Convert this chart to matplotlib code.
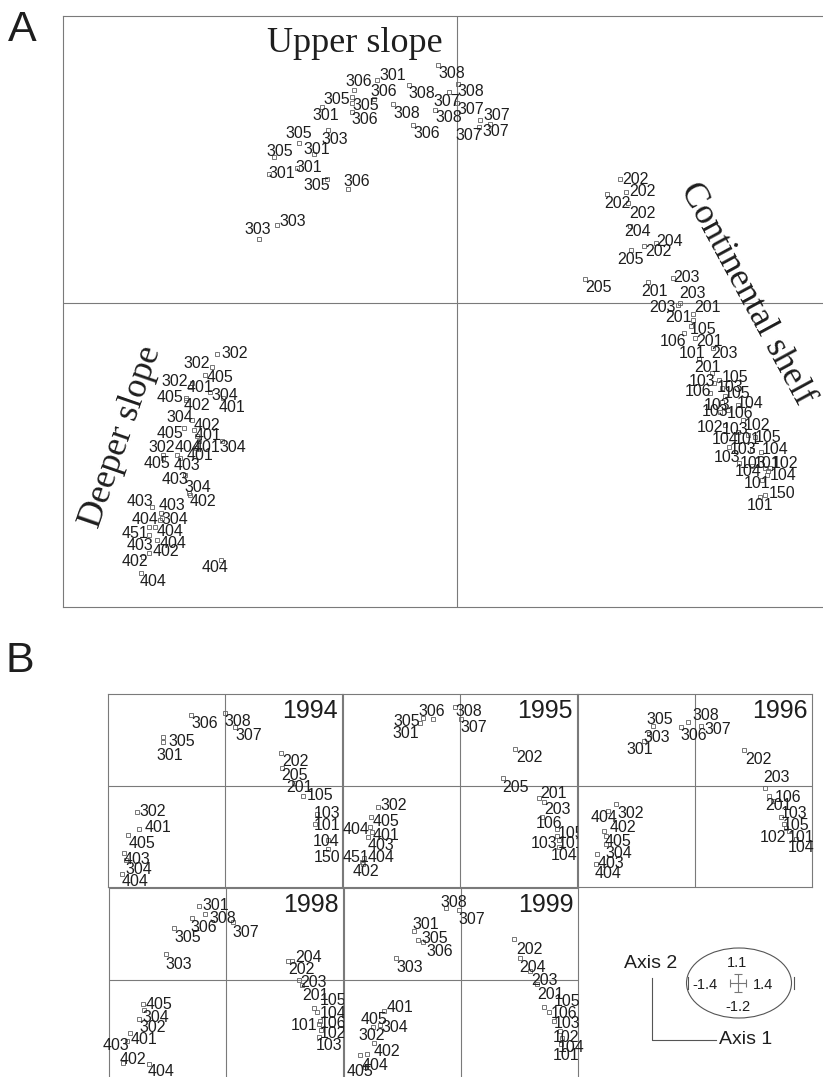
import numpy as np
import matplotlib.pyplot as plt
from matplotlib.patches import Ellipse

plt.rcParams['font.family'] = ['Liberation Sans', 'DejaVu Sans']

# ---------------- panel A: ordination scores (arbitrary units) ----------------
A_code = ['308', '306', '301', '308', '306', '308', '305', '307', '305', '308', '307', '301', '306', '308',
          '307', '307', '307', '306', '305', '303', '305', '301', '301', '301', '305', '306', '303', '303',
          '202', '202', '202', '202', '204', '204', '202', '205', '205', '201', '203', '203', '203', '201',
          '201', '105', '106', '201', '101', '203',
          '201', '105', '103', '103', '106', '105', '103', '104', '106', '103', '102', '102', '103', '105',
          '104', '101', '103', '104', '103', '103', '101', '102', '104', '104', '101', '150', '101',
          '302', '302', '405', '302', '401', '304', '405', '402', '401', '304', '402', '405', '401', '302',
          '404', '401', '304', '401', '405', '403', '403', '304', '402', '403', '403', '404', '304', '451',
          '404', '403', '404', '402', '402', '404', '404']
A_x = [-0.19, -1.03, -0.80, 0.01, -0.83, -0.48, -1.05, -0.08, -1.05, -0.64, 0.00, -1.35, -1.05, -0.22,
       0.23, 0.33, 0.22, -0.44, -1.58, -1.29, -1.83, -1.43, -1.60, -1.88, -1.30, -1.09, -1.80, -1.98,
       1.63, 1.69, 1.50, 1.71, 1.73, 1.99, 1.87, 1.74, 1.28, 1.91, 2.16, 2.23, 2.21, 2.36, 2.36, 2.34,
       2.27, 2.38, 2.42, 2.56,
       2.55, 2.62, 2.57, 2.65, 2.53, 2.68, 2.65, 2.81, 2.71, 2.63, 2.68, 2.86, 2.81, 2.98, 2.72, 2.91,
       2.95, 3.04, 2.82, 2.95, 3.08, 3.13, 3.10, 3.11, 3.05, 3.08, 3.03,
       -2.40, -2.45, -2.52, -2.65, -2.67, -2.47, -2.71, -2.71, -2.34, -2.65, -2.63, -2.73, -2.60, -2.94,
       -2.80, -2.58, -2.35, -2.61, -2.94, -2.77, -2.72, -2.68, -2.67, -3.05, -2.96, -2.97, -2.95, -3.08,
       -3.02, -3.08, -3.00, -3.08, -3.14, -2.36, -3.16]
A_y = [2.38, 2.13, 2.23, 2.19, 2.04, 2.18, 2.06, 2.11, 2.00, 1.99, 2.00, 1.96, 1.91, 1.93,
       1.83, 1.79, 1.76, 1.78, 1.60, 1.73, 1.46, 1.49, 1.35, 1.29, 1.24, 1.14, 0.78, 0.64,
       1.24, 1.11, 1.09, 1.00, 0.77, 0.60, 0.57, 0.53, 0.24, 0.21, 0.25, 0.00, -0.02, -0.11, -0.17, -0.23,
       -0.30, -0.35, -0.56, -0.45,
       -0.70, -0.77, -0.80, -0.85, -0.90, -0.93, -0.99, -1.02, -1.07, -1.09, -1.22, -1.17, -1.29, -1.34,
       -1.44, -1.32, -1.47, -1.49, -1.60, -1.63, -1.65, -1.65, -1.72, -1.68, -1.77, -1.92, -1.94,
       -0.51, -0.64, -0.72, -0.80, -0.84, -0.89, -0.95, -0.97, -0.95, -1.17, -1.27, -1.25, -1.33, -1.52,
       -1.52, -1.38, -1.38, -1.45, -1.55, -1.55, -1.72, -1.90, -1.92, -2.04, -2.10, -2.17, -2.15, -2.24,
       -2.24, -2.32, -2.37, -2.50, -2.54, -2.57, -2.70]
# label anchor positions (same units)
A_lx = [-0.05, -0.98, -0.64, 0.14, -0.73, -0.35, -1.20, -0.10, -0.91, -0.50, 0.14, -1.31, -0.92, -0.08,
        0.40, 0.39, 0.12, -0.30, -1.58, -1.22, -1.77, -1.40, -1.48, -1.75, -1.40, -1.00, -1.64, -1.99,
        1.78, 1.85, 1.60, 1.85, 1.81, 2.13, 2.01, 1.73, 1.41, 1.98, 2.30, 2.36, 2.06, 2.51, 2.21, 2.46,
        2.16, 2.53, 2.35, 2.67,
        2.51, 2.78, 2.45, 2.73, 2.41, 2.80, 2.60, 2.93, 2.83, 2.58, 2.53, 3.00, 2.78, 3.11, 2.68, 2.90,
        2.86, 3.18, 2.70, 2.96, 3.10, 3.28, 2.91, 3.26, 3.00, 3.25, 3.03,
        -2.22, -2.60, -2.37, -2.82, -2.57, -2.32, -2.87, -2.60, -2.25, -2.77, -2.50, -2.87, -2.49, -2.95,
        -2.69, -2.50, -2.24, -2.57, -3.00, -2.70, -2.82, -2.59, -2.54, -3.17, -2.85, -3.12, -2.82, -3.22,
        -2.87, -3.17, -2.84, -2.91, -3.22, -2.42, -3.04]
A_ly = [2.29, 2.21, 2.27, 2.11, 2.11, 2.09, 2.04, 2.02, 1.98, 1.90, 1.94, 1.88, 1.83, 1.85,
        1.88, 1.71, 1.68, 1.69, 1.69, 1.63, 1.52, 1.53, 1.36, 1.30, 1.17, 1.21, 0.82, 0.74,
        1.24, 1.11, 1.00, 0.90, 0.71, 0.62, 0.51, 0.44, 0.15, 0.11, 0.25, 0.09, -0.04, -0.05, -0.14, -0.27,
        -0.39, -0.39, -0.51, -0.51,
        -0.64, -0.74, -0.79, -0.84, -0.89, -0.90, -1.02, -1.00, -1.10, -1.08, -1.24, -1.22, -1.27, -1.34,
        -1.37, -1.37, -1.47, -1.47, -1.54, -1.60, -1.60, -1.60, -1.69, -1.72, -1.80, -1.90, -2.02,
        -0.50, -0.60, -0.74, -0.79, -0.85, -0.92, -0.95, -1.02, -1.05, -1.14, -1.22, -1.31, -1.32, -1.44,
        -1.44, -1.44, -1.45, -1.52, -1.60, -1.62, -1.76, -1.85, -1.98, -1.99, -2.02, -2.16, -2.17, -2.30,
        -2.29, -2.42, -2.40, -2.49, -2.59, -2.65, -2.79]

zone_names = ['Upper slope', 'Continental shelf', 'Deeper slope']
zone_x = [-1.02, 2.90, -3.36]
zone_y = [2.59, 0.09, -1.34]
zone_rot = [0, -61.5, 71]

# ---------------- panel B: one small ordination per year ----------------
years = ['1994', '1995', '1996', '1998', '1999']

code_1994 = ['306', '308', '307', '305', '301', '202', '205', '201', '105', '103', '101', '104', '150',
             '302', '401', '405', '403', '304', '404']
x_1994 = [-0.34, 0.00, 0.10, -0.62, -0.62, 0.56, 0.57, 0.69, 0.78, 0.92, 0.90, 1.03, 1.03,
          -0.88, -0.86, -0.97, -1.01, -0.99, -1.03]
y_1994 = [0.71, 0.73, 0.59, 0.49, 0.44, 0.33, 0.18, 0.03, -0.10, -0.28, -0.38, -0.54, -0.63,
          -0.26, -0.43, -0.49, -0.67, -0.74, -0.88]
lx_1994 = [-0.20, 0.13, 0.24, -0.43, -0.55, 0.70, 0.70, 0.75, 0.95, 1.02, 1.02, 1.01, 1.02,
           -0.72, -0.67, -0.83, -0.88, -0.86, -0.90]
ly_1994 = [0.62, 0.64, 0.51, 0.45, 0.30, 0.25, 0.10, -0.02, -0.10, -0.28, -0.39, -0.56, -0.71,
           -0.26, -0.42, -0.58, -0.73, -0.83, -0.96]

code_1995 = ['306', '305', '301', '308', '307', '202', '205', '201', '203', '106', '105', '103', '101',
             '104', '302', '405', '404', '401', '403', '451', '404', '402']
x_1995 = [-0.27, -0.37, -0.40, -0.05, 0.01, 0.55, 0.43, 0.79, 0.84, 0.82, 0.97, 0.97, 0.99,
          0.99, -0.82, -0.89, -0.90, -0.88, -0.92, -0.98, -0.96, -0.97]
y_1995 = [0.67, 0.68, 0.63, 0.79, 0.67, 0.37, 0.08, -0.12, -0.16, -0.31, -0.43, -0.50, -0.54,
          -0.61, -0.21, -0.31, -0.41, -0.46, -0.51, -0.76, -0.72, -0.78]
lx_1995 = [-0.28, -0.53, -0.54, 0.09, 0.14, 0.69, 0.56, 0.94, 0.98, 0.89, 1.11, 0.84, 1.11,
           1.04, -0.66, -0.74, -1.04, -0.74, -0.79, -1.04, -0.79, -0.94]
ly_1995 = [0.74, 0.64, 0.52, 0.74, 0.58, 0.28, -0.01, -0.07, -0.24, -0.37, -0.48, -0.58, -0.58,
           -0.70, -0.20, -0.36, -0.43, -0.50, -0.59, -0.71, -0.71, -0.86]

code_1996 = ['305', '303', '301', '308', '306', '307', '202', '203', '106', '201', '103', '105', '102',
             '101', '104', '302', '404', '402', '405', '304', '403', '404']
x_1996 = [-0.42, -0.46, -0.51, -0.07, -0.14, 0.06, 0.49, 0.70, 0.74, 0.78, 0.86, 0.89, 0.91,
          0.94, 1.01, -0.79, -0.87, -0.91, -0.89, -0.89, -0.98, -0.99]
y_1996 = [0.60, 0.52, 0.45, 0.64, 0.59, 0.60, 0.36, -0.02, -0.10, -0.15, -0.31, -0.38, -0.42,
          -0.45, -0.53, -0.18, -0.25, -0.45, -0.50, -0.58, -0.68, -0.78]
lx_1996 = [-0.35, -0.38, -0.55, 0.11, -0.01, 0.23, 0.63, 0.81, 0.93, 0.84, 0.99, 1.01, 0.78,
           1.06, 1.06, -0.64, -0.91, -0.72, -0.77, -0.76, -0.84, -0.87]
ly_1996 = [0.66, 0.49, 0.36, 0.70, 0.50, 0.56, 0.27, 0.08, -0.11, -0.20, -0.28, -0.40, -0.51,
           -0.51, -0.62, -0.28, -0.31, -0.42, -0.55, -0.67, -0.77, -0.87]

code_1998 = ['301', '308', '306', '307', '305', '303', '204', '202', '203', '201', '105', '104', '101',
             '106', '102', '103', '405', '304', '302', '401', '403', '402', '404']
x_1998 = [-0.27, -0.21, -0.34, 0.07, -0.52, -0.60, 0.66, 0.62, 0.73, 0.76, 0.88, 0.91, 0.94,
          0.93, 0.95, 0.93, -0.83, -0.82, -0.87, -0.96, -0.99, -1.03, -0.77]
y_1998 = [0.74, 0.66, 0.62, 0.58, 0.52, 0.26, 0.19, 0.19, 0.00, -0.05, -0.28, -0.32, -0.41,
          -0.44, -0.50, -0.57, -0.24, -0.30, -0.39, -0.53, -0.61, -0.83, -0.84]
lx_1998 = [-0.10, -0.03, -0.22, 0.20, -0.38, -0.47, 0.83, 0.75, 0.88, 0.90, 1.07, 1.07, 0.78,
           1.07, 1.07, 1.03, -0.67, -0.70, -0.73, -0.82, -1.10, -0.93, -0.65]
ly_1998 = [0.75, 0.62, 0.53, 0.48, 0.43, 0.16, 0.23, 0.11, -0.02, -0.15, -0.20, -0.33, -0.45,
           -0.43, -0.53, -0.65, -0.24, -0.37, -0.47, -0.60, -0.65, -0.80, -0.92]

code_1999 = ['308', '307', '301', '305', '306', '303', '202', '204', '203', '201', '105', '106', '103',
             '102', '104', '101', '401', '405', '304', '302', '402', '404', '405']
x_1999 = [-0.15, -0.02, -0.47, -0.43, -0.38, -0.65, 0.53, 0.59, 0.69, 0.76, 0.83, 0.88, 0.93,
          0.99, 1.01, 1.00, -0.77, -0.88, -0.81, -0.87, -0.94, -1.01, -0.96]
y_1999 = [0.72, 0.70, 0.49, 0.40, 0.38, 0.22, 0.41, 0.22, 0.09, -0.04, -0.27, -0.32, -0.41,
          -0.51, -0.58, -0.64, -0.31, -0.47, -0.45, -0.63, -0.74, -0.75, -0.87]
lx_1999 = [-0.07, 0.11, -0.35, -0.26, -0.21, -0.51, 0.68, 0.72, 0.84, 0.89, 1.06, 1.03, 1.06,
           1.05, 1.10, 1.05, -0.61, -0.87, -0.66, -0.89, -0.74, -0.86, -1.01]
ly_1999 = [0.78, 0.61, 0.56, 0.42, 0.29, 0.13, 0.31, 0.13, 0.00, -0.14, -0.21, -0.33, -0.44,
           -0.57, -0.67, -0.76, -0.27, -0.39, -0.48, -0.56, -0.71, -0.86, -0.92]

# legend ranges of the two axes
axis1_range = ['-1.4', '1.4']
axis2_range = ['-1.2', '1.1']

B_code = [code_1994, code_1995, code_1996, code_1998, code_1999]
B_x = [x_1994, x_1995, x_1996, x_1998, x_1999]
B_y = [y_1994, y_1995, y_1996, y_1998, y_1999]
B_lx = [lx_1994, lx_1995, lx_1996, lx_1998, lx_1999]
B_ly = [ly_1994, ly_1995, ly_1996, ly_1998, ly_1999]

# ---------------- drawing ----------------
W, H = 823, 1077
LINE = '#7a7a7a'
INK = '#1e1e1e'
fig = plt.figure(figsize=(W / 100, H / 100), dpi=100)


def px_axes(left, top, w, h):
    return fig.add_axes([left / W, 1 - (top + h) / H, w / W, h / H])


def frame(ax, hide_right=False):
    ax.set_xticks([])
    ax.set_yticks([])
    for name, sp in ax.spines.items():
        sp.set_color(LINE)
        sp.set_linewidth(0.8)
    if hide_right:
        ax.spines['right'].set_visible(False)
    ax.axhline(0, color=LINE, lw=0.8)
    ax.axvline(0, color=LINE, lw=0.8)


def points(ax, codes, xs, ys, lxs, lys, fs):
    ax.plot(xs, ys, ls='none', marker='s', ms=3.0, mfc='none', mec='#606060',
            mew=0.6, clip_on=False)
    for c, lx, ly in zip(codes, lxs, lys):
        ax.text(lx, ly, c, ha='center', va='center', fontsize=fs, color=INK, clip_on=False)


# panel A
axA = px_axes(63, 16, 760, 591)
axA.set_xlim(-3.94, 3.66)
axA.set_ylim(-3.04, 2.87)
frame(axA, hide_right=True)
points(axA, A_code, A_x, A_y, A_lx, A_ly, 11.5)
for name, zx, zy, zr in zip(zone_names, zone_x, zone_y, zone_rot):
    axA.text(zx, zy, name, rotation=zr, rotation_mode='anchor', ha='center', va='center',
             fontsize=26, family='Liberation Serif', color=INK)

fig.text(22 / W, 1 - 30 / H, 'A', fontsize=31, ha='center', va='center', color=INK)
fig.text(20 / W, 1 - 661 / H, 'B', fontsize=31, ha='center', va='center', color=INK)

# panel B
lefts = [108, 343, 578, 109, 344]
tops = [694, 694, 694, 888, 888]
for i, yr in enumerate(years):
    ax = px_axes(lefts[i], tops[i], 234, 193)
    ax.set_xlim(-1.17, 1.17)
    ax.set_ylim(-1.01, 0.92)
    frame(ax)
    points(ax, B_code[i], B_x[i], B_y[i], B_lx[i], B_ly[i], 11.5)
    ax.text(0.983, 0.91, yr, transform=ax.transAxes, ha='right', va='center',
            fontsize=18, color=INK)

# key
axL = px_axes(600, 930, 223, 130)
axL.set_xlim(0, 223)
axL.set_ylim(130, 0)
axL.axis('off')
axL.add_patch(Ellipse((139, 53), 105, 70, fill=False, ec='#555555', lw=0.8))
axL.errorbar([138], [53], xerr=8, yerr=9, fmt='none', ecolor='#777777', elinewidth=0.8,
             capsize=3, capthick=0.8)
axL.plot([87.5, 87.5], [47, 59], color='#555555', lw=0.8)
axL.plot([194, 194], [47, 59], color='#555555', lw=0.8)
axL.text(137, 33, axis2_range[1], ha='center', va='center', fontsize=10.5, color=INK)
axL.text(138, 77, axis2_range[0], ha='center', va='center', fontsize=10.5, color=INK)
axL.text(105, 55, axis1_range[0], ha='center', va='center', fontsize=10.5, color=INK)
axL.text(163, 55, axis1_range[1], ha='center', va='center', fontsize=10.5, color=INK)
axL.plot([52, 52, 116], [48, 110, 110], color='#555555', lw=0.8)
axL.text(51, 33, 'Axis 2', ha='center', va='center', fontsize=14, color=INK)
axL.text(146, 110, 'Axis 1', ha='center', va='center', fontsize=14, color=INK)

fig.savefig('out.png', dpi=100)
